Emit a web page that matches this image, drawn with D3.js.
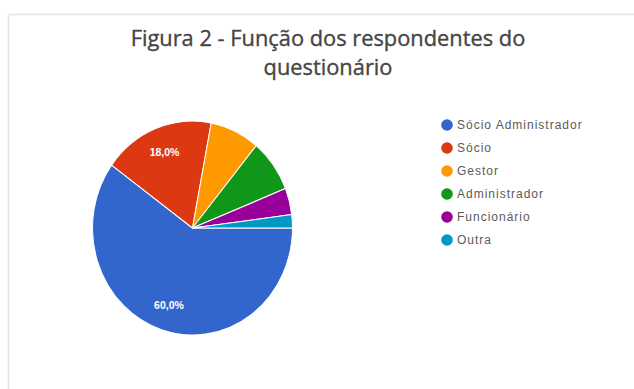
<!DOCTYPE html>
<html>
<head>
<meta charset="utf-8">
<script src="https://cdn.jsdelivr.net/npm/d3@7"></script>
<style>
  html, body { margin: 0; padding: 0; background: #ffffff; }
  svg { display: block; }
</style>
</head>
<body>
<svg id="chart" width="634" height="389"></svg>
<script>
// Função dos respondentes do questionário (n = 50)
const categories = ["Sócio Administrador", "Sócio", "Gestor", "Administrador", "Funcionário", "Outra"];
const counts = [30, 9, 4, 4, 2, 1];
const colors = ["#3366cc", "#dc3912", "#ff9900", "#109618", "#990099", "#0099c6"];
const titleLines = ["Figura 2 - Função dos respondentes do", "questionário"];

const svg = d3.select("#chart");
const W = 634, H = 389;

// Panel frame
svg.append("rect")
  .attr("x", 8.5).attr("y", 14.5)
  .attr("width", W).attr("height", H)
  .attr("fill", "#ffffff")
  .attr("stroke", "#e4e4e4")
  .attr("stroke-width", 1.5);

// Title, two centred lines
const title = svg.append("g")
  .attr("font-family", "'Open Sans', sans-serif")
  .attr("fill", "#454545")
  .attr("stroke", "#454545")
  .attr("stroke-width", 0.35);
const t1 = title.append("text")
  .attr("x", 328).attr("y", 46)
  .attr("text-anchor", "middle")
  .attr("font-size", 19)
  .text(titleLines[0]);
// size the title so the first line spans its column
const w1 = t1.node().getComputedTextLength();
const fs = 19 * 395 / w1;
t1.attr("font-size", fs);
title.append("text")
  .attr("x", 328).attr("y", 75)
  .attr("text-anchor", "middle")
  .attr("font-size", fs)
  .text(titleLines[1]);

// Pie
const cx = 192.5, cy = 228, R = 100, yStretch = 1.07;
const total = d3.sum(counts);
const data = categories.map((c, i) => ({ name: c, value: counts[i], color: colors[i] }));

const pie = d3.pie()
  .value(d => d.value)
  .sort(null)
  .startAngle(Math.PI / 2)
  .endAngle(Math.PI / 2 + 2 * Math.PI);
const arcs = pie(data);
const arc = d3.arc().innerRadius(0).outerRadius(R);

const pieG = svg.append("g")
  .attr("transform", `translate(${cx},${cy}) scale(1,${yStretch})`);
pieG.selectAll("path")
  .data(arcs)
  .join("path")
  .attr("d", arc)
  .attr("fill", d => d.data.color)
  .attr("stroke", "#ffffff")
  .attr("stroke-width", 1)
  .attr("stroke-linejoin", "round");

// Percentage labels on the larger slices
const labelArc = d3.arc().innerRadius(R * 0.76).outerRadius(R * 0.76);
const fmt = v => d3.format(".1f")(v).replace(".", ",") + "%";
svg.append("g")
  .selectAll("text")
  .data(arcs.filter(d => d.data.value / total >= 0.1))
  .join("text")
  .attr("x", d => cx + labelArc.centroid(d)[0])
  .attr("y", d => cy + labelArc.centroid(d)[1] * yStretch)
  .attr("dy", "0.35em")
  .attr("text-anchor", "middle")
  .attr("font-family", "'Liberation Sans', Arial, sans-serif")
  .attr("font-size", 10.5)
  .attr("font-weight", "bold")
  .attr("fill", "#ffffff")
  .text(d => fmt(100 * d.data.value / total));

// Legend
const legend = svg.append("g").attr("transform", "translate(447,125)");
const row = legend.selectAll("g")
  .data(data)
  .join("g")
  .attr("transform", (d, i) => `translate(0,${i * 23})`);
row.append("circle")
  .attr("r", 5.8)
  .attr("fill", d => d.color);
row.append("text")
  .attr("x", 10)
  .attr("dy", "0.35em")
  .attr("font-family", "'Liberation Sans', Arial, sans-serif")
  .attr("font-size", 12)
  .attr("letter-spacing", 1)
  .attr("fill", "#5a5a5a")
  .text(d => d.name);
</script>
</body>
</html>
